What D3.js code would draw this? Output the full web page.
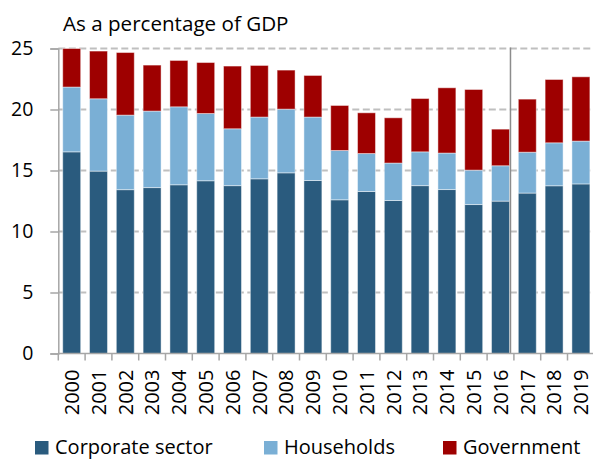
<!DOCTYPE html>
<html>
<head>
<meta charset="utf-8">
<script src="https://cdn.jsdelivr.net/npm/d3@7"></script>
<style>
  body { margin: 0; background: #fff; }
  svg text { font-family: "Open Sans", Lato, sans-serif; fill: #000; }
</style>
</head>
<body>
<svg id="chart" width="593" height="459"></svg>
<script>
// data
const years = ["2000", "2001", "2002", "2003", "2004", "2005", "2006", "2007", "2008", "2009",
  "2010", "2011", "2012", "2013", "2014", "2015", "2016", "2017", "2018", "2019"];
const corporate = [16.53, 14.95, 13.43, 13.6, 13.83, 14.16, 13.76, 14.32, 14.81, 14.18,
  12.6, 13.28, 12.54, 13.76, 13.44, 12.21, 12.49, 13.15, 13.75, 13.9];
const households = [5.31, 5.93, 6.11, 6.27, 6.39, 5.51, 4.66, 5.06, 5.22, 5.2,
  4.04, 3.11, 3.07, 2.77, 2.99, 2.82, 2.9, 3.35, 3.52, 3.51];
const government = [3.16, 3.91, 5.13, 3.77, 3.8, 4.18, 5.14, 4.23, 3.2, 3.41,
  3.69, 3.34, 3.71, 4.37, 5.35, 6.61, 3.0, 4.35, 5.19, 5.27];
const yTicks = [0, 5, 10, 15, 20, 25];
const seriesNames = ["Corporate sector", "Households", "Government"];
const colors = ["#2a5b7e", "#7aafd5", "#9e0000"];

let svg = d3.select("#chart");
let font = "'Open Sans', Lato, sans-serif";

let plotLeft = 58.3, plotRight = 594.3, plotTop = 48.5, plotBottom = 353.5;

let x = d3.scaleBand()
  .domain(years)
  .range([plotLeft, plotRight])
  .paddingInner(0.33)
  .paddingOuter(0.165);

let y = d3.scaleLinear().domain([0, 25]).range([plotBottom, plotTop]);

// build stacked table
let table = years.map(function (yr, i) {
  return { year: yr, c: corporate[i], h: households[i], g: government[i] };
});
let stack = d3.stack().keys(["c", "h", "g"])(table);

// dashed gridlines
svg.append("g")
  .selectAll("line")
  .data(yTicks.filter(d => d > 0))
  .join("line")
  .attr("x1", plotLeft)
  .attr("x2", 593)
  .attr("y1", d => y(d))
  .attr("y2", d => y(d))
  .attr("stroke", "#bfbfbf")
  .attr("stroke-width", 2)
  .attr("stroke-dasharray", "7,3.5");

// bars
svg.append("g")
  .selectAll("g")
  .data(stack)
  .join("g")
  .attr("fill", (d, i) => colors[i])
  .selectAll("rect")
  .data(d => d)
  .join("rect")
  .attr("x", d => x(d.data.year))
  .attr("width", x.bandwidth())
  .attr("y", d => y(d[1]))
  .attr("height", d => y(d[0]) - y(d[1]))
  .attr("stroke", "rgba(255,255,255,0.45)")
  .attr("stroke-width", 1);

// separator between 2016 and 2017
let sepX = x("2016") + x.bandwidth() + 1;
svg.append("line")
  .attr("x1", sepX).attr("x2", sepX)
  .attr("y1", y(25) - 1).attr("y2", plotBottom)
  .attr("stroke", "#8c8c8c")
  .attr("stroke-width", 1.5);

// y axis
let yAxis = svg.append("g")
  .attr("transform", `translate(${plotLeft},0)`)
  .call(d3.axisLeft(y).tickValues(yTicks).tickSize(8).tickPadding(17));
yAxis.select(".domain").attr("stroke", "#a6a6a6").attr("stroke-width", 1.5);
yAxis.selectAll(".tick line").attr("stroke", "#a6a6a6").attr("stroke-width", 1.5);
yAxis.selectAll(".tick text")
  .attr("font-size", 19.5)
  .attr("font-family", font)
  .attr("fill", "#000");

// x axis: ticks on band boundaries
let xAxis = svg.append("g")
  .attr("transform", `translate(0,${plotBottom})`)
  .call(d3.axisBottom(x).tickSize(0).tickPadding(0));
xAxis.select(".domain").remove();
xAxis.append("line")
  .attr("x1", plotLeft).attr("x2", plotRight)
  .attr("stroke", "#a6a6a6").attr("stroke-width", 1.5);
xAxis.selectAll(".boundary")
  .data(years.concat(["end"]))
  .join("line")
  .attr("class", "boundary")
  .attr("x1", (d, i) => plotLeft + i * x.step())
  .attr("x2", (d, i) => plotLeft + i * x.step())
  .attr("y1", 0).attr("y2", 7)
  .attr("stroke", "#a6a6a6").attr("stroke-width", 1.5);
xAxis.selectAll(".tick text")
  .attr("font-size", 20)
  .attr("font-family", font)
  .attr("fill", "#000")
  .attr("text-anchor", "end")
  .attr("transform", "translate(0,16) rotate(-90)")
  .attr("x", 0).attr("y", 0)
  .attr("dy", "0.36em");

// title
svg.append("text")
  .attr("x", 63)
  .attr("y", 30.5)
  .attr("font-size", 20.6)
  .text("As a percentage of GDP");

// legend
let legendX = [35, 264, 443];
let legend = svg.append("g")
  .selectAll("g")
  .data(seriesNames)
  .join("g")
  .attr("transform", (d, i) => `translate(${legendX[i]},441)`);
legend.append("rect")
  .attr("width", 13.5).attr("height", 13.5)
  .attr("fill", (d, i) => colors[i]);
legend.append("text")
  .attr("x", 20)
  .attr("y", 13)
  .attr("font-size", 20)
  .text(d => d);
</script>
</body>
</html>
